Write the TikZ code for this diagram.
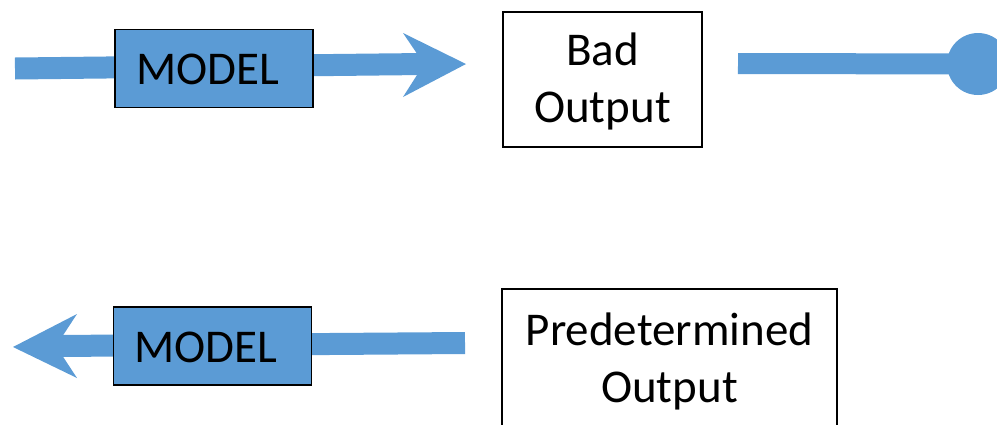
\documentclass[tikz,border=0pt]{standalone}
\usepackage{fontspec}
\setmainfont{Carlito}
\definecolor{flowblue}{HTML}{5B9BD5}
\begin{document}
\begin{tikzpicture}[x=1pt,y=-1pt,
  flow/.style={draw=flowblue,line width=22pt},
  headfill/.style={fill=flowblue},
  modelbox/.style={draw=black,fill=flowblue,line width=1.5pt,inner sep=0pt,
    minimum width=198pt,minimum height=78pt},
  outbox/.style={draw=black,fill=white,line width=1.5pt,inner sep=0pt},
  txt/.style={font=\fontsize{47}{57}\selectfont,anchor=base,inner sep=0pt}]
\useasboundingbox (0,0) rectangle (997,424);
\clip (0,0) rectangle (997,424);

% --- upper row: input -> MODEL -> bad output ---
\coordinate (src1) at (15,68.5);
\coordinate (neck1) at (424,64);
\coordinate (tip1) at (466,64);
\draw[flow] (src1) -- (neck1);
\fill[headfill] (tip1) -- (403,33) -- (neck1) -- (403,97) -- cycle;

\node[modelbox] (model1) at (214,68.5) {};
\node[txt] (model1txt) at (207.5,84) {MODEL};

\node[outbox,minimum width=199pt,minimum height=135pt] (badout) at (602.5,79.5) {};
\node[txt] (badtxt1) at (602.5,65) {Bad};
\node[txt] (badtxt2) at (602.5,122) {Output};

% plug ending in a round terminal
\coordinate (src2) at (738,63.5);
\node[circle,fill=flowblue,minimum size=62pt,inner sep=0pt] (dot) at (978,64) {};
\draw[flow,line width=21pt] (src2) -- (dot.center);

% --- lower row: predetermined output -> MODEL -> input ---
\coordinate (src3) at (465,343);
\coordinate (neck2) at (56,346);
\coordinate (tip2) at (13,347);
\draw[flow] (src3) -- (neck2);
\fill[headfill] (tip2) -- (77,314) -- (neck2) -- (77,378) -- cycle;

\node[modelbox] (model2) at (212.5,346) {};
\node[txt] (model2txt) at (206,362) {MODEL};

\node[outbox,minimum width=335pt,minimum height=160pt] (predout) at (669.5,369) {};
\node[txt] (predtxt1) at (669.5,345) {Predetermined};
\node[txt] (predtxt2) at (669.5,402) {Output};
\end{tikzpicture}
\end{document}
